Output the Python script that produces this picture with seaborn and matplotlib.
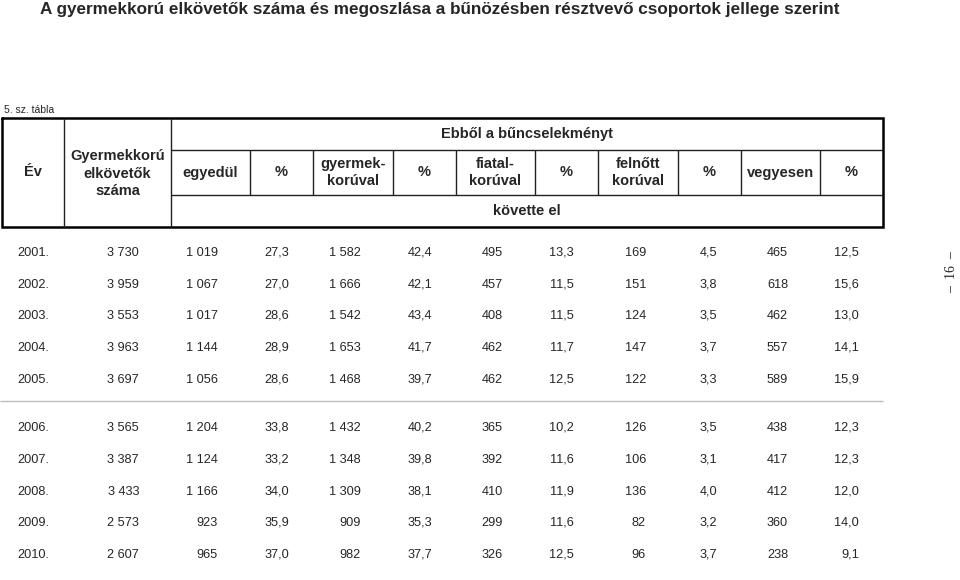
import matplotlib
matplotlib.use("Agg")
import matplotlib.pyplot as plt
import seaborn as sns

# ─────────────────────────────────────────────────────────────────────────────
#  Data (5. sz. tábla)
# ─────────────────────────────────────────────────────────────────────────────

years = [2001, 2002, 2003, 2004, 2005, 2006, 2007, 2008, 2009, 2010]
total = [3730, 3959, 3553, 3963, 3697, 3565, 3387, 3433, 2573, 2607]
alone = [1019, 1067, 1017, 1144, 1056, 1204, 1124, 1166, 923, 965]
alone_pct = [27.3, 27.0, 28.6, 28.9, 28.6, 33.8, 33.2, 34.0, 35.9, 37.0]
with_children = [1582, 1666, 1542, 1653, 1468, 1432, 1348, 1309, 909, 982]
with_children_pct = [42.4, 42.1, 43.4, 41.7, 39.7, 40.2, 39.8, 38.1, 35.3, 37.7]
with_juveniles = [495, 457, 408, 462, 462, 365, 392, 410, 299, 326]
with_juveniles_pct = [13.3, 11.5, 11.5, 11.7, 12.5, 10.2, 11.6, 11.9, 11.6, 12.5]
with_adults = [169, 151, 124, 147, 122, 126, 106, 136, 82, 96]
with_adults_pct = [4.5, 3.8, 3.5, 3.7, 3.3, 3.5, 3.1, 4.0, 3.2, 3.7]
mixed = [465, 618, 462, 557, 589, 438, 417, 412, 360, 238]
mixed_pct = [12.5, 15.6, 13.0, 14.1, 15.9, 12.3, 12.3, 12.0, 14.0, 9.1]

sub_headers = ["egyedül", "%", "gyermek-\nkorúval", "%", "fiatal-\nkorúval", "%",
               "felnőtt\nkorúval", "%", "vegyesen", "%"]

TITLE = ("A gyermekkorú elkövetők száma és megoszlása a bűnözésben "
         "résztvevő csoportok jellege szerint")

# ─────────────────────────────────────────────────────────────────────────────
#  Layout (pixel coordinates, y downwards)
# ─────────────────────────────────────────────────────────────────────────────

W, H = 960, 580
box_l, box_r = 2, 883
y_top, y_mid1, y_mid2, y_bot = 118, 150, 195, 227
col_lines = [64, 171, 250, 313, 393, 456, 535, 598, 678, 741, 820]
right_edges = [139, 218, 289, 361, 432, 503, 574, 646, 717, 788, 859]
row_y = [251, 283, 314, 346, 378, 426, 458, 490, 521, 553]
sep_y = 401


def fmt_int(v):
    return f"{v:,}".replace(",", " ")


def fmt_pct(v):
    return f"{v:.1f}".replace(".", ",")


sns.set_theme(style="white")
plt.rcParams["font.family"] = ["Liberation Sans", "DejaVu Sans"]

fig = plt.figure(figsize=(W / 100, H / 100), dpi=100)
ax = fig.add_axes([0, 0, 1, 1])
ax.set_xlim(0, W)
ax.set_ylim(H, 0)
ax.axis("off")

# ── Title & caption ──
ax.text(40, 14, TITLE, fontsize=12.3, fontweight="bold", va="baseline", ha="left")
ax.text(4, 113, "5. sz. tábla", fontsize=7.5, va="baseline", ha="left")

# ── Header grid ──
ink = "#222222"
ax.plot([box_l, box_r, box_r, box_l, box_l], [y_top, y_top, y_bot, y_bot, y_top],
        color="black", linewidth=1.8, solid_joinstyle="miter")
ax.vlines(col_lines[:2], y_top, y_bot, color=ink, linewidth=1.0)
ax.hlines([y_mid1, y_mid2], col_lines[1], box_r, color=ink, linewidth=1.0)
ax.vlines(col_lines[2:], y_mid1, y_mid2, color=ink, linewidth=1.0)

hdr = dict(fontsize=10.5, fontweight="bold", ha="center", va="center", linespacing=1.3)
ax.text((box_l + col_lines[0]) / 2, (y_top + y_bot) / 2, "Év", **hdr)
ax.text((col_lines[0] + col_lines[1]) / 2, (y_top + y_bot) / 2 + 1,
        "Gyermekkorú\nelkövetők\nszáma", **hdr)
ax.text((col_lines[1] + box_r) / 2, (y_top + y_mid1) / 2, "Ebből a bűncselekményt", **hdr)
ax.text((col_lines[1] + box_r) / 2, (y_mid2 + y_bot) / 2, "követte el", **hdr)
edges = col_lines[1:] + [box_r]
for i, label in enumerate(sub_headers):
    ax.text((edges[i] + edges[i + 1]) / 2, (y_mid1 + y_mid2) / 2, label, **hdr)

# ── Body ──
columns = [
    (total, fmt_int), (alone, fmt_int), (alone_pct, fmt_pct),
    (with_children, fmt_int), (with_children_pct, fmt_pct),
    (with_juveniles, fmt_int), (with_juveniles_pct, fmt_pct),
    (with_adults, fmt_int), (with_adults_pct, fmt_pct),
    (mixed, fmt_int), (mixed_pct, fmt_pct),
]
body = dict(fontsize=9.2, va="baseline")
for r, year in enumerate(years):
    yb = row_y[r] + 4.6
    ax.text(17, yb, f"{year}.", ha="left", **body)
    for (values, fmt), xr in zip(columns, right_edges):
        ax.text(xr, yb, fmt(values[r]), ha="right", **body)

ax.hlines(sep_y, 0, box_r, color="#bdbdbd", linewidth=1.0)

# ── Page number ──
ax.text(952, 272, "–  16  –", rotation=90, fontsize=10, family="Liberation Serif",
        ha="center", va="center")

fig.savefig("out.png", dpi=100)
